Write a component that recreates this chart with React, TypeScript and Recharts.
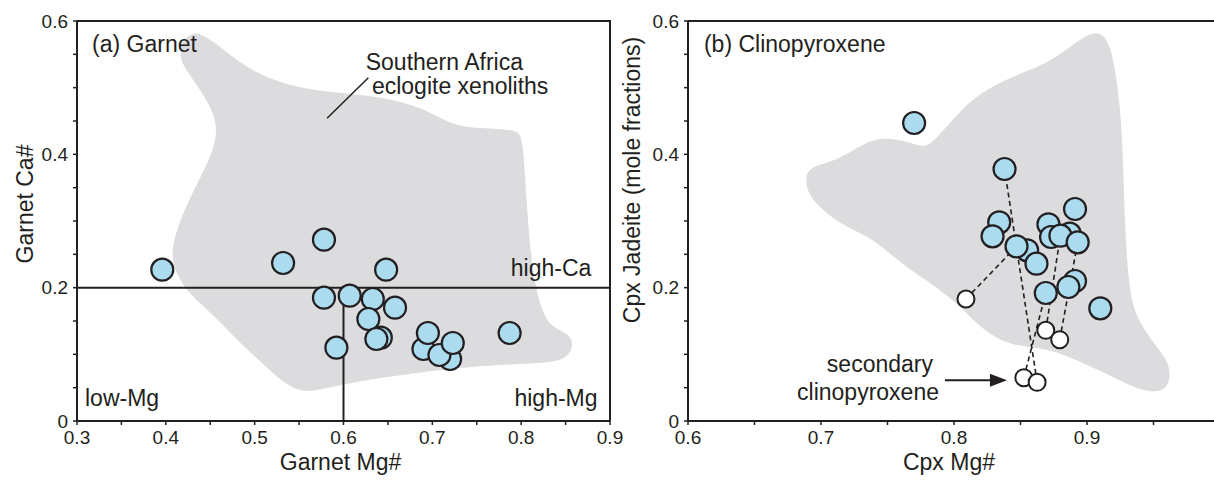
import React from "react";
import { ScatterChart, Scatter, XAxis, YAxis } from "recharts";

const INK = "#231f20";
const FIELD = "#dcdcdf";
const BLUE = "#abdbee";
const FONT = '"Liberation Sans", Arial, Helvetica, sans-serif';

// (a) garnet compositions
const garnetMg = [0.396, 0.532, 0.578, 0.648, 0.578, 0.607, 0.633, 0.658, 0.628, 0.642, 0.637, 0.592, 0.69, 0.695, 0.72, 0.708, 0.723, 0.787];
const garnetCa = [0.227, 0.237, 0.272, 0.227, 0.185, 0.188, 0.183, 0.17, 0.153, 0.125, 0.123, 0.11, 0.108, 0.132, 0.093, 0.099, 0.117, 0.132];

// Southern Africa eclogite xenolith field (garnet)
const garnetFieldMg = [0.435, 0.455, 0.475, 0.5, 0.53, 0.565, 0.61, 0.655, 0.69, 0.715, 0.74, 0.79, 0.8, 0.803, 0.806, 0.81, 0.815, 0.822, 0.832, 0.848, 0.857, 0.858, 0.85, 0.83, 0.79, 0.74, 0.7, 0.66, 0.62, 0.59, 0.565, 0.548, 0.53, 0.51, 0.485, 0.46, 0.44, 0.42, 0.405, 0.41, 0.425, 0.445, 0.46, 0.452, 0.432, 0.418, 0.415, 0.422];
const garnetFieldCa = [0.585, 0.568, 0.546, 0.523, 0.507, 0.496, 0.491, 0.483, 0.469, 0.449, 0.439, 0.438, 0.431, 0.4, 0.33, 0.26, 0.21, 0.17, 0.143, 0.134, 0.125, 0.108, 0.093, 0.087, 0.085, 0.081, 0.075, 0.068, 0.06, 0.052, 0.044, 0.046, 0.06, 0.085, 0.115, 0.15, 0.175, 0.2, 0.24, 0.28, 0.33, 0.38, 0.43, 0.47, 0.51, 0.535, 0.556, 0.576];

// (b) clinopyroxene compositions
const cpxMg = [0.77, 0.838, 0.834, 0.829, 0.855, 0.847, 0.862, 0.871, 0.873, 0.887, 0.88, 0.893, 0.891, 0.891, 0.886, 0.869, 0.91];
const cpxJd = [0.447, 0.378, 0.298, 0.277, 0.256, 0.262, 0.236, 0.295, 0.276, 0.281, 0.278, 0.268, 0.318, 0.21, 0.201, 0.192, 0.169];

// secondary clinopyroxene and the primary grain each one is tied to
const secMg = [0.809, 0.869, 0.8795, 0.8525, 0.8625];
const secJd = [0.183, 0.136, 0.122, 0.065, 0.058];
const tieSec = [0, 4, 3, 1, 2];
const tieCpx = [5, 1, 15, 10, 11];

// Southern Africa eclogite xenolith field (cpx)
const cpxFieldMg = [0.688, 0.692, 0.705, 0.72, 0.735, 0.75, 0.77, 0.778, 0.786, 0.798, 0.815, 0.837, 0.857, 0.873, 0.888, 0.9, 0.91, 0.917, 0.921, 0.925, 0.927, 0.928, 0.93, 0.933, 0.94, 0.952, 0.961, 0.963, 0.959, 0.948, 0.935, 0.915, 0.887, 0.87, 0.855, 0.84, 0.822, 0.808, 0.793, 0.778, 0.764, 0.752, 0.74, 0.725, 0.71, 0.698, 0.69];
const cpxFieldJd = [0.366, 0.381, 0.387, 0.4, 0.42, 0.426, 0.416, 0.41, 0.422, 0.45, 0.486, 0.511, 0.526, 0.541, 0.562, 0.58, 0.584, 0.566, 0.53, 0.47, 0.4, 0.32, 0.24, 0.18, 0.145, 0.112, 0.09, 0.065, 0.046, 0.043, 0.05, 0.071, 0.096, 0.108, 0.111, 0.116, 0.136, 0.166, 0.191, 0.213, 0.231, 0.251, 0.271, 0.286, 0.302, 0.322, 0.342];

// axis ticks
const garnetXTicks = [0.3, 0.35, 0.4, 0.45, 0.5, 0.55, 0.6, 0.65, 0.7, 0.75, 0.8, 0.85, 0.9];
const garnetXLabels = [0.3, 0.4, 0.5, 0.6, 0.7, 0.8, 0.9];
const cpxXTicks = [0.6, 0.65, 0.7, 0.75, 0.8, 0.85, 0.9, 0.95, 1.0];
const cpxXLabels = [0.6, 0.7, 0.8, 0.9];
const yTicks = [0, 0.05, 0.1, 0.15, 0.2, 0.25, 0.3, 0.35, 0.4, 0.45, 0.5, 0.55, 0.6];
const yLabels = [0, 0.2, 0.4, 0.6];

// text notes, placed in data units
const garnetNoteText = ["(a) Garnet", "Southern Africa", "eclogite xenoliths", "high-Ca", "high-Mg", "low-Mg"];
const garnetNoteMg = [0.317, 0.625, 0.632, 0.879, 0.886, 0.309];
const garnetNoteCa = [0.553, 0.526, 0.49, 0.217, 0.022, 0.022];
const garnetNoteAnchor = ["start", "start", "start", "end", "end", "start"];

const cpxNoteText = ["(b) Clinopyroxene", "secondary", "clinopyroxene"];
const cpxNoteMg = [0.612, 0.7842, 0.7887];
const cpxNoteJd = [0.553, 0.0735, 0.031];
const cpxNoteAnchor = ["start", "end", "end"];

const pts = (xs: number[], ys: number[]) => xs.map((x, i) => ({ x, y: ys[i] }));
const notes = (text: string[], xs: number[], ys: number[], anchor: string[]) =>
  text.map((t, i) => ({ x: xs[i], y: ys[i], text: t, anchor: anchor[i] }));

const garnetPoints = pts(garnetMg, garnetCa);
const garnetField = pts(garnetFieldMg, garnetFieldCa);
const cpxPoints = pts(cpxMg, cpxJd);
const secPoints = pts(secMg, secJd);
const cpxField = pts(cpxFieldMg, cpxFieldJd);
const ties = tieSec.map((s, i) => [secPoints[s], cpxPoints[tieCpx[i]]]);

const hidden = () => <g />;

const blueDot = (p: any) => (
  <circle cx={p.cx} cy={p.cy} r={11} fill={BLUE} stroke={INK} strokeWidth={2.2} />
);
const openDot = (p: any) => (
  <circle cx={p.cx} cy={p.cy} r={8.5} fill="#ffffff" stroke={INK} strokeWidth={2} />
);
const noteText = (p: any) => (
  <text x={p.cx} y={p.cy} textAnchor={p.payload.anchor} fontSize={23} fill={INK} fontFamily={FONT}>
    {p.payload.text}
  </text>
);
const arrowHead = (p: any) => (
  <polygon points={`${p.cx},${p.cy} ${p.cx - 17},${p.cy - 6.5} ${p.cx - 17},${p.cy + 6.5}`} fill={INK} />
);

const fmt = (labels: number[]) => (v: number) => (labels.some((l) => Math.abs(l - v) < 1e-9) ? String(v) : "");

const bottomTitle = (text: string, shift: number) => (props: any) => {
  const vb = props.viewBox || {};
  return (
    <text x={vb.x + vb.width / 2 + shift} y={vb.y + vb.height - 11} textAnchor="middle" fontSize={23} fill={INK} fontFamily={FONT}>
      {text}
    </text>
  );
};

const sideTitle = (text: string, baseX: number, shift: number) => (props: any) => {
  const vb = props.viewBox || {};
  const x = vb.x + baseX;
  const y = vb.y + vb.height / 2 + shift;
  return (
    <text x={x} y={y} transform={`rotate(-90 ${x} ${y})`} textAnchor="middle" fontSize={23} fill={INK} fontFamily={FONT}>
      {text}
    </text>
  );
};

const axisLine = { stroke: INK, strokeWidth: 2 };
const tickLine = { stroke: INK, strokeWidth: 1.5 };
const tickStyle = { fill: INK, fontSize: 19, fontFamily: FONT };

const GarnetPanel = () => (
  <ScatterChart width={625} height={481} margin={{ top: 21, right: 15, bottom: 0, left: 0 }}>
    <XAxis
      type="number"
      dataKey="x"
      domain={[0.3, 0.9]}
      ticks={garnetXTicks}
      interval={0}
      tickFormatter={fmt(garnetXLabels)}
      height={60}
      tickSize={4}
      tickMargin={6}
      axisLine={axisLine}
      tickLine={tickLine}
      tick={tickStyle}
      label={bottomTitle("Garnet Mg#", -3)}
    />
    <YAxis
      type="number"
      dataKey="y"
      domain={[0, 0.6]}
      ticks={yTicks}
      interval={0}
      tickFormatter={fmt(yLabels)}
      width={77}
      tickSize={4}
      tickMargin={5}
      axisLine={axisLine}
      tickLine={tickLine}
      tick={tickStyle}
      label={sideTitle("Garnet Ca#", 33, -17)}
    />
    <Scatter data={garnetField} line={{ fill: FIELD, stroke: "none" }} lineJointType="basisClosed" shape={hidden} isAnimationActive={false} />
    {/* frame: top and right edges */}
    <Scatter data={pts([0.3, 0.9, 0.9], [0.6, 0.6, 0])} line={{ stroke: INK, strokeWidth: 2 }} shape={hidden} isAnimationActive={false} />
    {/* high-Ca / high-Mg / low-Mg dividers */}
    <Scatter data={pts([0.3, 0.9], [0.2, 0.2])} line={{ stroke: INK, strokeWidth: 2 }} shape={hidden} isAnimationActive={false} />
    <Scatter data={pts([0.6, 0.6], [0, 0.2])} line={{ stroke: INK, strokeWidth: 2 }} shape={hidden} isAnimationActive={false} />
    {/* leader to the field label */}
    <Scatter data={pts([0.628, 0.5815], [0.515, 0.454])} line={{ stroke: INK, strokeWidth: 1.5 }} shape={hidden} isAnimationActive={false} />
    <Scatter data={garnetPoints} shape={blueDot} isAnimationActive={false} />
    <Scatter data={notes(garnetNoteText, garnetNoteMg, garnetNoteCa, garnetNoteAnchor)} shape={noteText} isAnimationActive={false} />
  </ScatterChart>
);

const CpxPanel = () => (
  <ScatterChart width={630} height={481} margin={{ top: 21, right: 20, bottom: 0, left: 0 }}>
    <XAxis
      type="number"
      dataKey="x"
      domain={[0.6, 1.0]}
      ticks={cpxXTicks}
      interval={0}
      tickFormatter={fmt(cpxXLabels)}
      height={60}
      tickSize={4}
      tickMargin={6}
      axisLine={axisLine}
      tickLine={tickLine}
      tick={tickStyle}
      label={bottomTitle("Cpx Mg#", -5)}
    />
    <YAxis
      type="number"
      dataKey="y"
      domain={[0, 0.6]}
      ticks={yTicks}
      interval={0}
      tickFormatter={fmt(yLabels)}
      width={78}
      tickSize={4}
      tickMargin={5}
      axisLine={axisLine}
      tickLine={tickLine}
      tick={tickStyle}
      label={sideTitle("Cpx Jadeite (mole fractions)", 30, -41)}
    />
    <Scatter data={cpxField} line={{ fill: FIELD, stroke: "none" }} lineJointType="basisClosed" shape={hidden} isAnimationActive={false} />
    <Scatter data={pts([0.6, 1.0, 1.0], [0.6, 0.6, 0])} line={{ stroke: INK, strokeWidth: 2 }} shape={hidden} isAnimationActive={false} />
    {ties.map((pair, i) => (
      <Scatter
        key={`tie-${i}`}
        data={pair}
        line={{ stroke: INK, strokeWidth: 1.6, strokeDasharray: "5 3.5" }}
        shape={hidden}
        isAnimationActive={false}
      />
    ))}
    <Scatter data={cpxPoints} shape={blueDot} isAnimationActive={false} />
    <Scatter data={secPoints} shape={openDot} isAnimationActive={false} />
    {/* arrow to the secondary grains */}
    <Scatter data={pts([0.7932, 0.834], [0.061, 0.061])} line={{ stroke: INK, strokeWidth: 2 }} shape={hidden} isAnimationActive={false} />
    <Scatter data={pts([0.8398], [0.061])} shape={arrowHead} isAnimationActive={false} />
    <Scatter data={notes(cpxNoteText, cpxNoteMg, cpxNoteJd, cpxNoteAnchor)} shape={noteText} isAnimationActive={false} />
  </ScatterChart>
);

export default function App() {
  return (
    <div style={{ position: "relative", width: 1214, height: 481, overflow: "hidden", background: "#fff", fontFamily: FONT }}>
      <style>{"body{margin:0}"}</style>
      <div style={{ position: "absolute", left: 0, top: 0 }}>
        <GarnetPanel />
      </div>
      <div style={{ position: "absolute", left: 610, top: 0 }}>
        <CpxPanel />
      </div>
    </div>
  );
}
